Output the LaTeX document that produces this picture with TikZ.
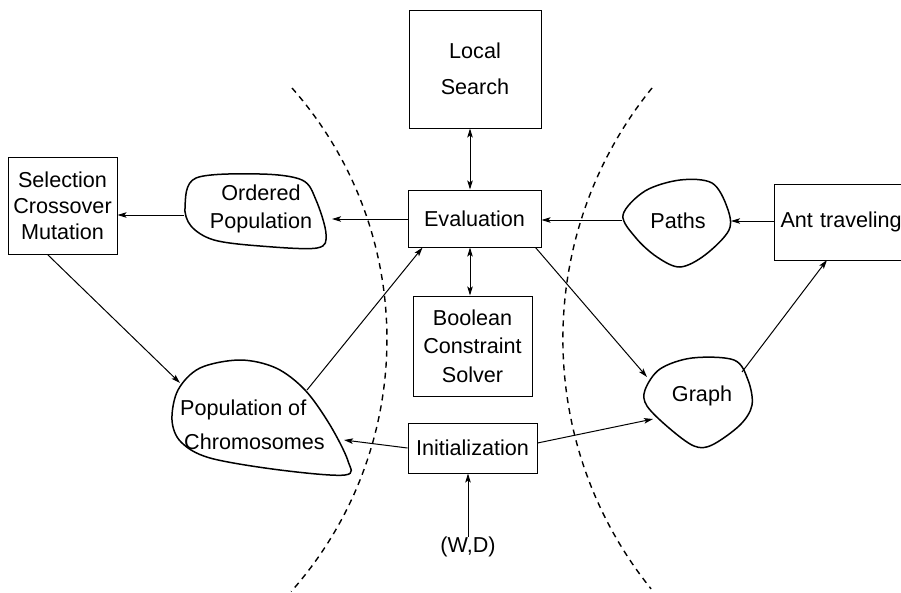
\documentclass[tikz,border=0pt]{standalone}
\usepackage{fontspec}
\setmainfont{Liberation Sans}
\usetikzlibrary{arrows.meta}
\begin{document}
\begin{tikzpicture}[x=1pt,y=-1pt,
  every node/.style={font=\fontsize{21.6}{26}\selectfont},
  box/.style={draw,line width=1pt,inner sep=0pt,align=center},
  lbl/.style={inner sep=0pt,align=center},
  blob/.style={line width=1.5pt},
  conn/.style={line width=1pt,-{Stealth[length=9pt,width=5.5pt,inset=2pt]}},
  dconn/.style={line width=1pt,{Stealth[length=9pt,width=5.5pt,inset=2pt]}-{Stealth[length=9pt,width=5.5pt,inset=2pt]}},
  border/.style={line width=1.4pt,dash pattern=on 6pt off 5pt}
]
\useasboundingbox (0,0) rectangle (901,592);
\clip (0,0) rectangle (901,592);

% boundaries
\draw[border] (292,88) arc[start angle=-41.4, end angle=41.6, radius=380];
\draw[border] (652,88) arc[start angle=219.1, end angle=141.1, radius=398];

% boxes
\node[box,minimum width=132pt,minimum height=118pt,font=\fontsize{21.6}{36}\selectfont] (local) at (475,69) {Local\\Search};
\node[box,minimum width=133pt,minimum height=57pt] (eval) at (474.5,218.5) {Evaluation};
\node[box,minimum width=119pt,minimum height=100pt,font=\fontsize{21.6}{28.5}\selectfont] (bool) at (472.5,346) {Boolean\\Constraint\\Solver};
\node[box,minimum width=129pt,minimum height=50pt] (init) at (472.5,448) {Initialization};
\node[box,minimum width=109pt,minimum height=97pt] (sel) at (62.5,205.5) {Selection\\Crossover\\Mutation};
\node[box,anchor=west,minimum height=76pt,text width=150pt,align=left,inner xsep=6pt] (ant) at (774,222) {Ant traveling};
\node[lbl] (wd) at (468,547) {(W,D)};

% blobs
\draw[blob] plot[smooth cycle,tension=0.55] coordinates {(196,178) (260,174) (302,180) (316,200) (326,234) (317,248) (260,246) (214,240) (191,226) (185,206)};
\node[lbl,font=\fontsize{21.6}{28}\selectfont] (ordered) at (261,209) {Ordered\\Population};

\draw[blob] plot[smooth cycle,tension=0.55] coordinates {(623,215) (645,191) (680,180) (712,183) (727,207) (729,230) (705,255) (680,267) (657,257) (636,238)};
\node[lbl] (paths) at (678,221) {Paths};

\draw[blob] plot[smooth cycle,tension=0.55] coordinates {(645,390) (660,369) (692,358) (734,360) (748,380) (752,405) (740,425) (712,445) (694,446) (669,428) (647,406)};
\node[lbl] (graph) at (702,396) {Graph};

\draw[blob] plot[smooth cycle,tension=0.55] coordinates {(172,420) (178,390) (200,368) (240,360) (276,368) (305,390) (330,425) (348,461) (345,475) (280,470) (210,458) (181,442)};
\node[lbl,font=\fontsize{21.6}{34}\selectfont,align=left,anchor=west] (popc) at (180,425) {Population of\\\hspace*{4pt}Chromosomes};

% connector end points on the blobs
\coordinate (stem) at (470,0);
\coordinate (opL) at (184,215);
\coordinate (opR) at (332,219);
\coordinate (paL) at (622,220);
\coordinate (paR) at (731,221);
\coordinate (pcNW) at (180,383);
\coordinate (pcNE) at (307,390);
\coordinate (pcE) at (344,440);
\coordinate (grW) at (653,419);
\coordinate (grN) at (647,377);
\coordinate (grNE) at (742,372);
\coordinate (antS) at (827,260);

% connectors
\draw[conn] (opL) -- (sel.east |- opL);
\draw[conn] (eval.west |- opR) -- (opR);
\draw[conn] (paL) -- (eval.east |- paL);
\draw[conn] (ant.west |- paR) -- (paR);
\draw[dconn] (local.south -| stem) -- (eval.north -| stem);
\draw[dconn] (eval.south -| stem) -- (bool.north -| stem);
\draw[conn] ([xshift=-15pt]sel.south) -- (pcNW);
\draw[conn] (pcNE) -- ([xshift=15pt]eval.south west);
\draw[conn] (init.west) -- (pcE);
\draw[conn] ([yshift=5pt]init.east) -- (grW);
\draw[conn] ([xshift=-6pt]eval.south east) -- (grN);
\draw[conn] (grNE) -- (antS);
\draw[conn] (wd.north) -- (wd.north |- init.south);
\end{tikzpicture}
\end{document}
